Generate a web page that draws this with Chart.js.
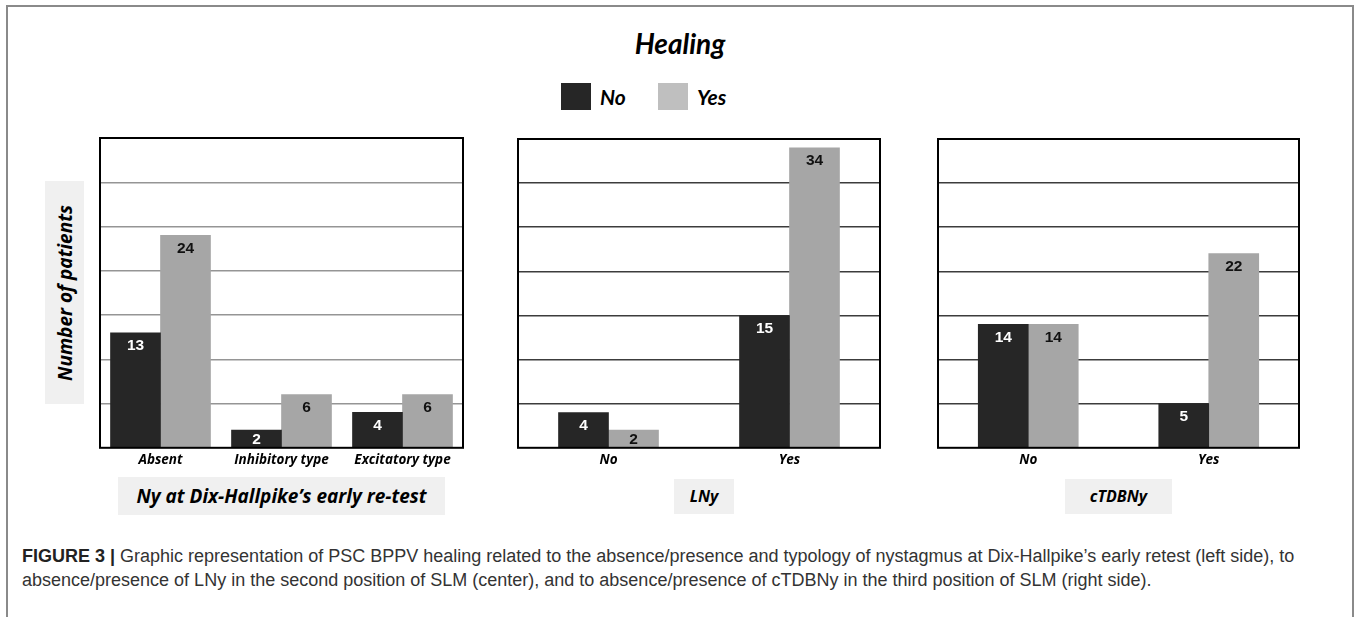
<!DOCTYPE html>
<html>
<head>
<meta charset="utf-8">
<script src="https://cdn.jsdelivr.net/npm/chart.js@4/dist/chart.umd.min.js"></script>
<style>
body { margin: 0; width: 1357px; height: 617px; background: #fff; position: relative; overflow: hidden; font-family: "Open Sans", Lato, sans-serif; }
#marco { position: absolute; left: 6px; top: 5px; width: 1348px; height: 700px; border: 2px solid #8a8a8a; box-sizing: border-box; }
#titulo { position: absolute; left: 580px; width: 200px; top: 26px; text-align: center; font-family: Lato, sans-serif; font-weight: bold; font-style: italic; font-size: 28px; color: #000; }
.cuadro { position: absolute; top: 83px; width: 30px; height: 27px; }
.leyenda { position: absolute; top: 83px; line-height: 27px; font-family: Lato, sans-serif; font-weight: bold; font-style: italic; font-size: 21px; color: #000; }
.caja { position: absolute; background: #f0f0f0; font-weight: bold; font-style: italic; color: #000; text-align: center; white-space: nowrap; }
#ejeY { left: 45px; top: 181px; width: 39px; height: 223px; }
#ejeY span { position: absolute; left: 50%; top: 50%; transform: translate(-50%, -50%) rotate(-90deg); white-space: nowrap; font-size: 19px; }
canvas { position: absolute; }
#pie { position: absolute; left: 22px; top: 544px; width: 1300px; margin: 0; font-family: "Liberation Sans", Arial, sans-serif; font-size: 18px; line-height: 24px; color: #333; }
</style>
</head>
<body>
<div id="marco"></div>
<div id="titulo">Healing</div>
<div class="cuadro" style="left:561px;background:#262626"></div>
<div class="leyenda" style="left:600px">No</div>
<div class="cuadro" style="left:658px;background:#bfbfbf"></div>
<div class="leyenda" style="left:697px">Yes</div>
<div class="caja" id="ejeY"><span>Number of patients</span></div>

<canvas id="panel1" width="366" height="346" style="left:99px;top:129px"></canvas>
<canvas id="panel2" width="365" height="346" style="left:517px;top:129px"></canvas>
<canvas id="panel3" width="364" height="346" style="left:937px;top:129px"></canvas>

<div class="caja" style="left:118px;top:477px;width:327px;height:38px;line-height:38px;font-size:19px">Ny at Dix-Hallpike’s early re-test</div>
<div class="caja" style="left:674px;top:479px;width:60px;height:35px;line-height:35px;font-size:16px">LNy</div>
<div class="caja" style="left:1065px;top:479px;width:107px;height:35px;line-height:35px;font-size:16px">cTDBNy</div>

<p id="pie"><b style="color:#222">FIGURE 3 |</b> Graphic representation of PSC BPPV healing related to the absence/presence and typology of nystagmus at Dix-Hallpike’s early retest (left side), to absence/presence of LNy in the second position of SLM (center), and to absence/presence of cTDBNy in the third position of SLM (right side).</p>

<script>
// datos
const catIzq = ['Absent', 'Inhibitory type', 'Excitatory type'];
const noIzq = [13, 2, 4];
const siIzq = [24, 6, 6];

const catCentro = ['No', 'Yes'];
const noCentro = [4, 15];
const siCentro = [2, 34];

const catDer = ['No', 'Yes'];
const noDer = [14, 5];
const siDer = [14, 22];

const series = ['No', 'Yes'];
const ejeMin = 0, ejeMax = 35, ejePaso = 5;

Chart.defaults.animation = false;
Chart.defaults.devicePixelRatio = 1;

const etiquetasBarras = { // numeros dentro de las barras
    id: 'etiquetasBarras',
    afterDatasetsDraw(chart) {
        const ctx = chart.ctx;
        ctx.save();
        ctx.font = 'bold 15.5px "Liberation Sans", Arial, sans-serif';
        ctx.textAlign = 'center';
        ctx.textBaseline = 'middle';
        chart.data.datasets.forEach((ds, i) => {
            chart.getDatasetMeta(i).data.forEach((barra, j) => {
                const y = Math.min(barra.y + 13, (barra.y + barra.base) / 2 + 1);
                ctx.fillStyle = i == 0 ? '#ffffff' : '#111111';
                ctx.fillText(ds.data[j], barra.x, y);
            });
        });
        ctx.restore();
    }
};

const marcoNegro = { // recuadro del area del grafico
    id: 'marcoNegro',
    afterDraw(chart) {
        const a = chart.chartArea;
        const ctx = chart.ctx;
        ctx.save();
        ctx.strokeStyle = '#000';
        ctx.lineWidth = 2;
        ctx.strokeRect(a.left, a.top, a.right - a.left, a.bottom - a.top);
        ctx.restore();
    }
};

function crearPanel(id, categorias, no, si, colorRejilla, padTop) {
    return new Chart(document.getElementById(id), {
        type: 'bar',
        data: {
            labels: categorias,
            datasets: [{
                label: series[0],
                data: no,
                backgroundColor: '#262626',
                barThickness: 50
            }, {
                label: series[1],
                data: si,
                backgroundColor: '#a6a6a6',
                barThickness: 50
            }]
        },
        options: {
            responsive: false,
            layout: { padding: { left: 1, right: 2, top: padTop, bottom: 3 } },
            plugins: {
                legend: { display: false },
                title: { display: false },
                tooltip: { enabled: false }
            },
            scales: {
                x: {
                    grid: { display: false, drawTicks: false },
                    border: { display: false },
                    ticks: {
                        padding: 4,
                        color: '#000',
                        font: { family: 'Open Sans', size: 13.5, weight: 'bold', style: 'italic' }
                    }
                },
                y: {
                    min: ejeMin,
                    max: ejeMax,
                    ticks: { display: false, stepSize: ejePaso },
                    border: { display: false },
                    grid: {
                        drawTicks: false,
                        lineWidth: 1.5,
                        color: ctx => (ctx.tick && (ctx.tick.value == ejeMin || ctx.tick.value == ejeMax)) ? 'rgba(0,0,0,0)' : colorRejilla
                    }
                }
            }
        },
        plugins: [etiquetasBarras, marcoNegro]
    });
}

crearPanel('panel1', catIzq, noIzq, siIzq, '#959595', 9);
crearPanel('panel2', catCentro, noCentro, siCentro, '#3c3c3c', 10);
crearPanel('panel3', catDer, noDer, siDer, '#3c3c3c', 10);
</script>
</body>
</html>
